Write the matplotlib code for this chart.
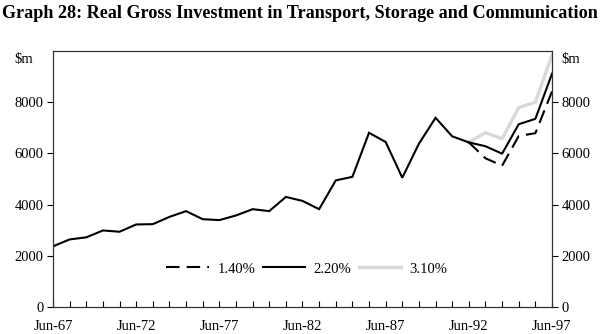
import matplotlib
matplotlib.use("Agg")
import matplotlib.pyplot as plt
from matplotlib.ticker import MultipleLocator, FixedLocator

plt.rcParams['font.family'] = ['Liberation Serif', 'DejaVu Serif']

# Financial years (June), historical series $m
years = list(range(1967, 1993))
actual = [2370, 2640, 2720, 2990, 2940, 3224, 3236, 3520, 3745, 3430,
          3395, 3575, 3821, 3745, 4300, 4144, 3821, 4945, 5085, 6805,
          6445, 5050, 6380, 7390, 6667, 6430]

# Projections from Jun-92 to Jun-97 at three growth rates
proj_years = list(range(1992, 1998))
proj_14 = [6430, 5810, 5520, 6680, 6790, 8420]
proj_22 = [6430, 6280, 5990, 7140, 7350, 9110]
proj_31 = [6430, 6810, 6570, 7790, 8000, 9840]

xtick_years = [1967, 1972, 1977, 1982, 1987, 1992, 1997]
xtick_labels = ["Jun-67", "Jun-72", "Jun-77", "Jun-82", "Jun-87", "Jun-92", "Jun-97"]
yticks = [0, 2000, 4000, 6000, 8000]

fig = plt.figure(figsize=(6.0, 3.34), dpi=100)
ax = fig.add_axes([53/600, 27/334, 499/600, 256/334])

ax.plot(years, actual, color="black", lw=1.5, solid_joinstyle="miter")
l14, = ax.plot(proj_years, proj_14, color="black", lw=1.5, dashes=(6.5, 3.4))
l22, = ax.plot(proj_years, proj_22, color="black", lw=1.5)
l31, = ax.plot(proj_years, proj_31, color="#d9d9d9", lw=2.4, zorder=1)

ax.set_xlim(1967, 1997)
ax.set_ylim(0, 10000)

ax.xaxis.set_major_locator(FixedLocator(xtick_years))
ax.xaxis.set_minor_locator(MultipleLocator(1))
ax.set_xticks(xtick_years)
ax.set_xticklabels(xtick_labels)
ax.tick_params(axis="x", which="both", direction="in", length=4, width=0.8,
               labelsize=10.5, pad=9, colors="black")
ax.set_yticks(yticks)
ax.tick_params(axis="y", which="both", direction="out", length=4, width=0.8,
               labelsize=10.5, left=True, right=True, labelleft=True,
               labelright=True, pad=3)

for s in ax.spines.values():
    s.set_color("#333333")
    s.set_linewidth(0.9)

fig.text(33/600, 1 - 60/334, r"\$m", ha="right", va="center", fontsize=10.5)
fig.text(561/600, 1 - 60/334, r"\$m", ha="left", va="center", fontsize=10.5)

fig.suptitle("Graph 28: Real Gross Investment in Transport, Storage and Communication",
             x=0.5, y=1 - 13/334, ha="center", va="center",
             fontsize=13.1, fontweight="bold")

ax.legend([l14, l22, l31], ["1.40%", "2.20%", "3.10%"], ncol=3, frameon=False,
          loc="center", bbox_to_anchor=(307/600, 1 - 269/334),
          bbox_transform=fig.transFigure, fontsize=10.5, handlelength=2.9,
          columnspacing=0.5, handletextpad=0.6)

fig.savefig("out.png", dpi=100)
